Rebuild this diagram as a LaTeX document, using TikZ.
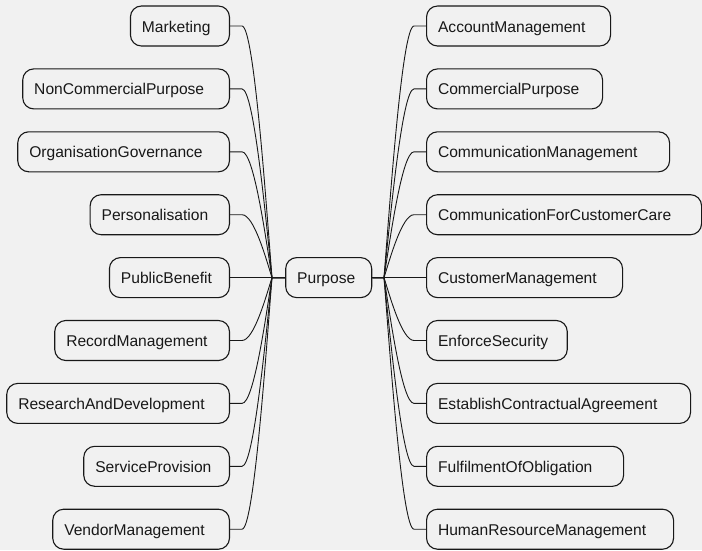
\documentclass[tikz,border=0pt]{standalone}
\usepackage{fontspec}
\setmainfont{Liberation Sans}
\usetikzlibrary{calc}
\definecolor{bg}{HTML}{F1F1F1}
\definecolor{linec}{HTML}{181818}
\tikzset{
  box/.style={draw=linec, fill=bg, rounded corners=11pt, line width=1.1pt,
    minimum height=40pt, inner xsep=11.5pt, inner ysep=0pt, align=left,
    text height=12pt, text depth=0pt, text=linec,
    font=\fontsize{15.6pt}{18pt}\selectfont},
  conn/.style={draw=linec, line width=0.9pt}
}
\newcommand\leafL[4]{\node[box, text width=#3pt, anchor=east] (#1) at (230,#4) {#2};}
\newcommand\leafR[4]{\node[box, text width=#3pt, anchor=west] (#1) at (426,#4) {#2};}
\newcommand\connL[2]{\draw[conn] (P.west) -- (jl) .. controls +(-6,#2) and +(12,0) .. ([xshift=12pt]#1.east) -- (#1.east);}
\newcommand\connR[2]{\draw[conn] (P.east) -- (jr) .. controls +(6,#2) and +(-12,0) .. ([xshift=-12pt]#1.west) -- (#1.west);}
\begin{document}
\begin{tikzpicture}[x=1pt, y=-1pt]
\fill[bg] (0,0) rectangle (702,550);
\useasboundingbox (0,0) rectangle (702,550);

\node[box, text width=63pt] (P) at (328.7,277.6) {Purpose};

\leafL{L1}{Marketing}{76}{26}
\leafL{L2}{NonCommercialPurpose}{183.7}{88.9}
\leafL{L3}{OrganisationGovernance}{188.7}{151.8}
\leafL{L4}{Personalisation}{116.3}{214.7}
\leafL{L5}{PublicBenefit}{97}{277.6}
\leafL{L6}{RecordManagement}{151.7}{340.5}
\leafL{L7}{ResearchAndDevelopment}{199.7}{403.4}
\leafL{L8}{ServiceProvision}{122.7}{466.3}
\leafL{L9}{VendorManagement}{153.7}{529.2}

\leafR{R1}{AccountManagement}{161}{26}
\leafR{R2}{CommercialPurpose}{153}{88.9}
\leafR{R3}{CommunicationManagement}{220}{151.8}
\leafR{R4}{CommunicationForCustomerCare}{252}{214.7}
\leafR{R5}{CustomerManagement}{173}{277.6}
\leafR{R6}{EnforceSecurity}{117.7}{340.5}
\leafR{R7}{EstablishContractualAgreement}{241}{403.4}
\leafR{R8}{FulfilmentOfObligation}{174}{466.3}
\leafR{R9}{HumanResourceManagement}{224}{529.2}

\coordinate (jl) at (272,277.6);
\coordinate (jr) at (384,277.6);

\connL{L1}{-75.5}
\connL{L2}{-56.6}
\connL{L3}{-37.7}
\connL{L4}{-18.9}
\connL{L5}{0}
\connL{L6}{18.9}
\connL{L7}{37.7}
\connL{L8}{56.6}
\connL{L9}{75.5}

\connR{R1}{-75.5}
\connR{R2}{-56.6}
\connR{R3}{-37.7}
\connR{R4}{-18.9}
\connR{R5}{0}
\connR{R6}{18.9}
\connR{R7}{37.7}
\connR{R8}{56.6}
\connR{R9}{75.5}
\end{tikzpicture}
\end{document}
